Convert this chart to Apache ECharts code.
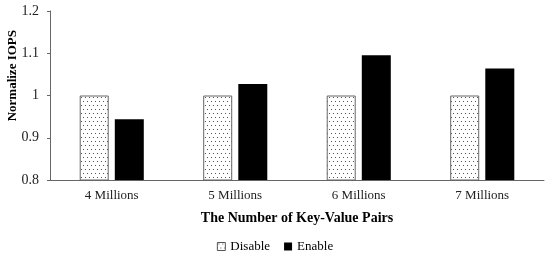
<!DOCTYPE html>
<html><head><meta charset="utf-8">
<script src="https://cdn.jsdelivr.net/npm/echarts@6/dist/echarts.min.js"></script>
<style>html,body{margin:0;padding:0;background:#fff}#c{width:550px;height:257px}</style>
</head><body><div id="c"></div>
<script>
const categories = ['4 Millions', '5 Millions', '6 Millions', '7 Millions'];
const disableValues = [1, 1, 1, 1];
const enableValues = [0.944, 1.027, 1.095, 1.064];
const yTicks = [0.8, 0.9, 1, 1.1, 1.2];

function dotPattern() {
  const c = document.createElement('canvas');
  c.width = 4; c.height = 8;
  const g = c.getContext('2d');
  g.fillStyle = '#ffffff'; g.fillRect(0, 0, 4, 8);
  g.fillStyle = '#555555';
  g.fillRect(1, 1, 1, 1);
  g.fillRect(3, 5, 1, 1);
  return c;
}
const pat = { image: dotPattern(), repeat: 'repeat' };
const font = '"Liberation Serif", "Times New Roman", serif';

const chart = echarts.init(document.getElementById('c'), null, { renderer: 'canvas' });
chart.setOption({
  animation: false,
  textStyle: { fontFamily: font },
  grid: { left: 50, right: 6, top: 11, bottom: 77, containLabel: false },
  graphic: [{
    type: 'text', left: 6, top: 30, rotation: Math.PI / 2,
    style: { text: 'Normalize IOPS', font: 'bold 13px ' + font, fill: '#000' }
  }],
  legend: {
    bottom: -1, left: 'center', itemWidth: 8, itemHeight: 8, itemGap: 14,
    textStyle: { fontFamily: font, fontSize: 13, color: '#000' },
    data: [
      { name: 'Disable', icon: 'rect', itemStyle: { color: pat, borderColor: '#555', borderWidth: 1 } },
      { name: 'Enable', icon: 'rect', itemStyle: { color: '#000' } }
    ]
  },
  xAxis: {
    type: 'category', data: categories,
    name: 'The Number of Key-Value Pairs', nameLocation: 'middle', nameGap: 31,
    nameTextStyle: { fontFamily: font, fontSize: 14, fontWeight: 'bold', color: '#000' },
    axisLine: { lineStyle: { color: '#666', width: 1 } },
    axisTick: { show: false },
    axisLabel: { fontFamily: font, fontSize: 13, color: '#222', margin: 9 }
  },
  yAxis: {
    type: 'value', min: 0.8, max: 1.2, interval: 0.1,
    axisLine: { show: true, lineStyle: { color: '#666', width: 1 } },
    axisTick: { show: true, length: 3, lineStyle: { color: '#666' } },
    splitLine: { show: false },
    axisLabel: { fontFamily: font, fontSize: 14, color: '#222', margin: 11,
      formatter: v => { const t = yTicks.find(x => Math.abs(x - v) < 1e-9); return t === undefined ? '' : String(t); } }
  },
  series: [
    { name: 'Disable', type: 'bar', data: disableValues, barWidth: 29, barGap: '21%',
      itemStyle: { color: pat, borderColor: '#666', borderWidth: 1 } },
    { name: 'Enable', type: 'bar', data: enableValues, barWidth: 29,
      itemStyle: { color: '#000' } }
  ]
});
</script></body></html>
